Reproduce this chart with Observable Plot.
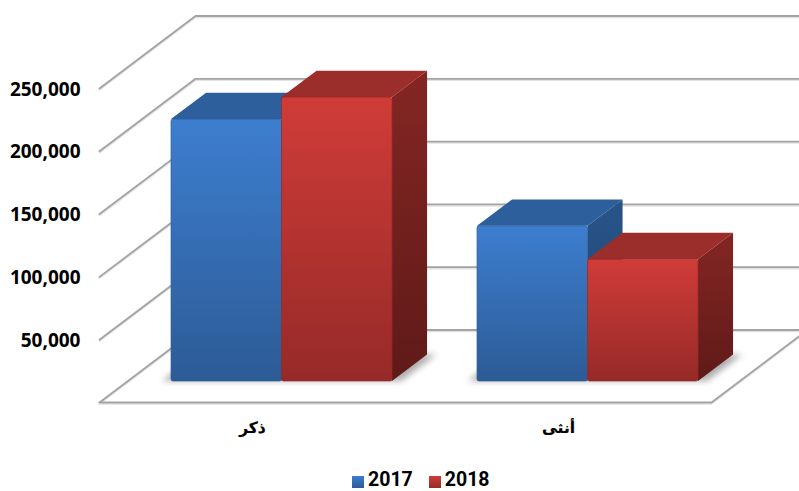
<!DOCTYPE html>
<html lang="ar">
<head>
<meta charset="utf-8">
<script src="https://cdn.jsdelivr.net/npm/d3@7"></script>
<script src="https://cdn.jsdelivr.net/npm/@observablehq/plot@0.6"></script>
<style>
html,body{margin:0;padding:0;background:#fff;overflow:hidden}
#legend{display:flex;align-items:center;height:22px;padding-left:352px;font:bold 19.5px/22px Roboto,sans-serif;color:#000}
#legend i{display:inline-block;width:12px;height:12px;margin-right:4px;position:relative;top:2px}
#legend span{margin-right:16px;direction:ltr}
</style>
</head>
<body>
<div id="chart"></div>
<div id="legend"></div>
<script>
const categories = ["ذكر", "أنثى"];
const series = ["2017", "2018"];
const values2017 = [208500, 123500];
const values2018 = [226000, 97000];
const ticks = [50000, 100000, 150000, 200000, 250000];

// oblique projection, in data units: one full depth shift
const depthX = 0.3137, depthY = 57700;
const xMax = 2.2876;
const barPlane = 0.29, barDepth = 0.365;   // where the bars sit in the depth, how deep they are
const groupStart = 0.1444, barWidth = 0.3611;
const baseline = barPlane * depthY;
const gridStroke = "#a3a3a3";

const colors = {
  "2017": {top: "#2c5f9b", side1: "#285489", side2: "#1f4470", front1: "#3d7ecf", front2: "#2c5b96", id: "b"},
  "2018": {top: "#9b2d2a", side1: "#842623", side2: "#5f1a18", front1: "#d03c38", front2: "#962a28", id: "r"}
};

const gridLines = [0, ...ticks].flatMap((v) => [
  {v, x: 0, y: v},
  {v, x: depthX, y: v + depthY},
  {v, x: xMax, y: v + depthY}
]);
const floorRightDepth = (xMax - 2) / depthX;
const floorEdge = [
  {x: 0, y: 0},
  {x: 2, y: 0},
  {x: xMax, y: floorRightDepth * depthY}
];

function defs() {
  const s = d3.create("svg:defs");
  for (const k of series) {
    const c = colors[k];
    const f = s.append("linearGradient").attr("id", "front" + c.id).attr("x1", 0).attr("x2", 0).attr("y1", 0).attr("y2", 1);
    f.append("stop").attr("offset", 0).attr("stop-color", c.front1);
    f.append("stop").attr("offset", 1).attr("stop-color", c.front2);
    const g = s.append("linearGradient").attr("id", "side" + c.id).attr("x1", 0).attr("x2", 0).attr("y1", 0).attr("y2", 1);
    g.append("stop").attr("offset", 0).attr("stop-color", c.side1);
    g.append("stop").attr("offset", 1).attr("stop-color", c.side2);
  }
  return s.node();
}

function barMarks(cat, s, value) {
  const c = colors[series[s]];
  const x1 = cat + groupStart + s * barWidth + barPlane * depthX;
  const x2 = x1 + barWidth;
  const y1 = baseline, y2 = baseline + value;
  const dx = barDepth * depthX, dy = barDepth * depthY;
  return [
    Plot.areaY([
      {x: x1, a: y2, b: y2},
      {x: x1 + dx, a: y2, b: y2 + dy},
      {x: x2, a: y2, b: y2 + dy},
      {x: x2 + dx, a: y2 + dy, b: y2 + dy}
    ], {x: "x", y1: "a", y2: "b", fill: c.top}),
    Plot.areaY([
      {x: x2, a: y1, b: y2},
      {x: x2 + dx, a: y1 + dy, b: y2 + dy}
    ], {x: "x", y1: "a", y2: "b", fill: `url(#side${c.id})`}),
    Plot.rect([0], {x1: x1, x2: x2, y1: y1, y2: y2, fill: `url(#front${c.id})`, rx: 2, stroke: c.front2, strokeWidth: 1, strokeOpacity: 0.7})
  ];
}

function shadowMarks(cat) {
  const x1 = cat + groupStart + barPlane * depthX - 0.03;
  const x2 = x1 + 2 * barWidth + 0.06;
  const dx = barDepth * depthX, dy = barDepth * depthY;
  return Plot.areaY([
    {x: x1, a: baseline, b: baseline},
    {x: x1 + dx, a: baseline, b: baseline + dy},
    {x: x2, a: baseline, b: baseline + dy},
    {x: x2 + dx, a: baseline + dy, b: baseline + dy}
  ], {x: "x", y1: "a", y2: "b", fill: "#8a8a8a", fillOpacity: 0.7, imageFilter: "blur(3px)"});
}

const chart = Plot.plot({
  width: 799,
  height: 469,
  marginLeft: 99,
  marginRight: 0,
  marginTop: 15.5,
  marginBottom: 67,
  style: {fontFamily: "'Open Sans', sans-serif", background: "#fff", color: "#000"},
  x: {domain: [0, xMax], axis: null},
  y: {domain: [0, 250000 + depthY]},
  marks: [
    defs,
    Plot.line(gridLines, {x: "x", y: "y", z: "v", stroke: "#e2e2e2", strokeWidth: 1.5, dy: 1.5}),
    Plot.line(gridLines, {x: "x", y: "y", z: "v", stroke: gridStroke, strokeWidth: 1.8}),
    Plot.line(floorEdge, {x: "x", y: "y", stroke: "#e2e2e2", strokeWidth: 1.5, dy: 1.5}),
    Plot.line(floorEdge, {x: "x", y: "y", stroke: gridStroke, strokeWidth: 1.8}),
    ...categories.map((_, i) => shadowMarks(i)),
    ...categories.flatMap((_, i) => [
      ...barMarks(i, 0, values2017[i]),
      ...barMarks(i, 1, values2018[i])
    ]),
    Plot.axisY(ticks, {
      anchor: "left", tickSize: 0, tickPadding: 19, label: null, dy: 1,
      tickFormat: d3.format(","), fontSize: 19, fontWeight: "bold", fill: "#000"
    }),
    Plot.text(categories, {
      x: (d, i) => i + 0.5, y: () => 0, dy: 26, text: (d) => d,
      fontFamily: "'DejaVu Sans', sans-serif", fontSize: 15.5, fontWeight: "bold", fill: "#000", stroke: "#000", strokeWidth: 0.2
    })
  ]
});
document.getElementById("chart").appendChild(chart);
chart.style.display = "block";

const legend = document.getElementById("legend");
for (const k of series) {
  const c = colors[k];
  const sw = document.createElement("i");
  sw.style.background = `linear-gradient(${c.front1}, ${c.front2})`;
  const t = document.createElement("span");
  t.textContent = k;
  legend.append(sw, t);
}
</script>
</body>
</html>
